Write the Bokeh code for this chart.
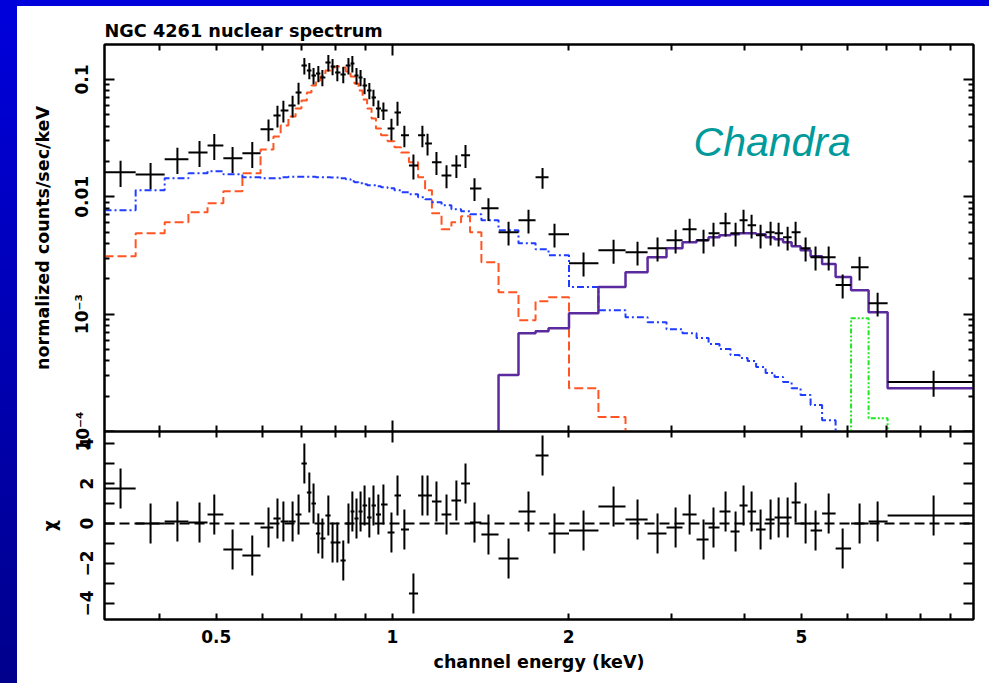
from bokeh.plotting import figure
from bokeh.models import (FixedTicker, LogAxis, LinearAxis, Span, Label, ColumnDataSource)
from bokeh.layouts import column
from bokeh.embed import file_html
from bokeh.resources import INLINE

# ---------------- data ----------------
title_text = "NGC 4261 nuclear spectrum"
y_label_top = "normalized counts/sec/keV"
y_label_bottom = "\u03c7"
x_label = "channel energy (keV)"

# bin boundaries (keV)
edges = [0.322, 0.364, 0.408, 0.448, 0.483, 0.514, 0.554, 0.595, 0.626, 0.644,
         0.664, 0.683, 0.699, 0.714, 0.727, 0.740, 0.753, 0.768, 0.784, 0.798,
         0.815, 0.832, 0.848, 0.861, 0.875, 0.889, 0.905, 0.921, 0.937, 0.956,
         0.981, 1.008, 1.034, 1.067, 1.106, 1.137, 1.168, 1.213, 1.261, 1.310,
         1.357, 1.419, 1.518, 1.642, 1.756, 1.848, 2.003, 2.249, 2.502, 2.729,
         2.940, 3.131, 3.309, 3.469, 3.622, 3.782, 3.919, 4.045, 4.183, 4.342,
         4.498, 4.651, 4.810, 4.983, 5.183, 5.423, 5.719, 6.078, 6.512, 7.018, 9.84]

# data point energies (keV)
energy = [0.343, 0.386, 0.429, 0.468, 0.496, 0.533, 0.576, 0.614, 0.636, 0.651,
          0.675, 0.691, 0.707, 0.721, 0.733, 0.747, 0.759, 0.777, 0.790, 0.805,
          0.824, 0.841, 0.854, 0.868, 0.882, 0.896, 0.913, 0.928, 0.946, 0.965,
          0.996, 1.020, 1.048, 1.086, 1.125, 1.148, 1.189, 1.237, 1.286, 1.333,
          1.381, 1.459, 1.579, 1.708, 1.805, 1.892, 2.121, 2.387, 2.623, 2.838,
          3.047, 3.220, 3.401, 3.537, 3.709, 3.858, 3.981, 4.109, 4.257, 4.428,
          4.570, 4.735, 4.886, 5.082, 5.285, 5.565, 5.880, 6.285, 6.747, 8.41]

# normalized counts/sec/keV
counts = [0.0162, 0.0155, 0.0209, 0.0239, 0.0274, 0.0213, 0.0235, 0.0376, 0.0494, 0.0545,
          0.0601, 0.0775, 0.1315, 0.1193, 0.1081, 0.1125, 0.1040, 0.1395, 0.1290, 0.1147,
          0.1103, 0.1315, 0.1368, 0.1081, 0.1040, 0.0889, 0.0806, 0.0703, 0.0566, 0.0545,
          0.0383, 0.0524, 0.0334, 0.0185, 0.0334, 0.0285, 0.0197, 0.0152, 0.0185, 0.0226,
          0.0118, 0.00798, 0.00499, 0.00631, 0.01466, 0.00480, 0.00272, 0.00350, 0.00337, 0.00365,
          0.00426, 0.00529, 0.00426, 0.00489, 0.00595, 0.00489, 0.00631, 0.00572, 0.00470, 0.00499,
          0.00489, 0.00452, 0.00499, 0.00365, 0.00306, 0.00306, 0.00177, 0.00251, 0.00124, 0.000264]

# fractional 1-sigma errors of the counts
frac_err = [0.25, 0.25, 0.25, 0.25, 0.25, 0.25, 0.25, 0.21, 0.21, 0.21,
            0.21, 0.21, 0.16, 0.16, 0.16, 0.16, 0.16, 0.16, 0.16, 0.16,
            0.16, 0.16, 0.16, 0.16, 0.16, 0.16, 0.16, 0.16, 0.17, 0.17,
            0.21, 0.23, 0.21, 0.24, 0.21, 0.21, 0.22, 0.22, 0.22, 0.22,
            0.22, 0.22, 0.23, 0.23, 0.20, 0.23, 0.23, 0.23, 0.23, 0.23,
            0.23, 0.23, 0.23, 0.23, 0.23, 0.23, 0.23, 0.23, 0.23, 0.23,
            0.23, 0.23, 0.23, 0.23, 0.23, 0.23, 0.23, 0.23, 0.23, 0.25]

# residuals (chi)
chi = [1.75, 0.0, 0.1, 0.05, 0.45, -1.3, -1.6, -0.2, 0.25, 0.1,
       0.1, 0.45, 3.0, 1.55, 1.0, -0.5, -0.75, 0.4, -0.95, -0.95,
       -1.85, 0.0, 0.6, 0.25, 0.6, 0.9, 0.3, 0.9, 0.45, 0.95,
       -0.45, 1.4, -0.3, -3.5, 1.4, 1.4, 1.1, 0.45, 1.15, 2.0,
       0.05, -0.55, -1.75, 0.6, 3.4, -0.5, -0.35, 0.85, 0.2, -0.5,
       -0.2, 0.45, -0.8, -0.2, 0.6, -0.4, 0.9, 0.6, -0.3, 0.2,
       0.3, 0.3, 1.05, 0.0, -0.35, 0.5, -1.25, 0.0, 0.1, 0.4]
chi_err = [1.0] * 70

# model components, one value per bin (None = not drawn)
thermal = [0.00312, 0.00489, 0.00607, 0.00738, 0.00881, 0.01114, 0.01585, 0.02535, 0.0327, 0.0406,
           0.0484, 0.0567, 0.0662, 0.0776, 0.0889, 0.098, 0.106, 0.119, 0.1265, 0.129,
           0.1265, 0.117, 0.106, 0.0925, 0.0806, 0.0675, 0.0567, 0.0466, 0.0383, 0.0334,
           0.0297, 0.0264, 0.0239, 0.0197, 0.01466, 0.01135, 0.00724, 0.00529, 0.00607, 0.00682,
           0.00499, 0.00277, 0.00154, 0.000889, 0.00129, 0.001396, 0.000234, 0.000133] + [None] * 22

soft_pl = [0.00767, 0.01135, 0.01437, 0.01585, 0.01648, 0.01554, 0.01466, 0.0144, 0.0144, 0.0147,
           0.0148, 0.0148, 0.0148, 0.0148, 0.0148, 0.0147, 0.0147, 0.0147, 0.0146, 0.0146,
           0.01437, 0.01409, 0.01355, 0.01328, 0.01303, 0.01277, 0.01252, 0.01252, 0.01228, 0.01204,
           0.01181, 0.01135, 0.01091, 0.01049, 0.00990, 0.00952, 0.00898, 0.00847, 0.00783, 0.00753,
           0.00710, 0.00631, 0.00519, 0.00402, 0.00357, 0.00318, 0.00170, 0.00108, 0.000942, 0.000855,
           0.000745, 0.000689, 0.000625, 0.000556, 0.000504, 0.000448, 0.000422, 0.000398, 0.000354, 0.000315,
           0.000291, 0.000264, 0.000234, 0.000205, 0.000168, 0.000125] + [None] * 4

absorbed_pl = [None] * 42 + [0.000303, 0.000689, 0.000716, 0.000760, 0.00102, 0.00170, 0.00228, 0.00305,
                             0.00365, 0.00410, 0.00427, 0.00452, 0.00470, 0.00480, 0.00489, 0.00489,
                             0.00480, 0.00452, 0.00435, 0.00410, 0.00379, 0.00350, 0.00312, 0.00267,
                             0.00207, 0.00160, 0.00104, 0.000234]

fe_line = [None] * 67 + [0.000924, 0.000130, None]

x_ticks = [0.5, 1, 2, 5]
x_minor = [0.4, 0.6, 0.7, 0.8, 0.9, 3, 4, 6, 7, 8, 9]
y_ticks_top = [1e-4, 1e-3, 1e-2, 1e-1]
y_labels_top = {1e-4: "10\u207b\u2074", 1e-3: "10\u207b\u00b3", 1e-2: "0.01", 1e-1: "0.1"}
y_minor_top = [m * d for d in (1e-4, 1e-3, 1e-2, 1e-1) for m in range(2, 10)]
y_ticks_bot = [-4, -2, 0, 2, 4]
y_labels_bot = {-4: "\u22124", -2: "\u22122", 0: "0", 2: "2", 4: "4"}
y_minor_bot = [-3, -1, 1, 3]

FONT = "DejaVu Sans"
FS = "17px"
FLOOR = 1e-7

# ---------------- helpers ----------------
lo = edges[:-1]
hi = edges[1:]


def step_segments(values):
    xs_all, ys_all = [], []
    xs, ys = [], []
    prev = None
    for a, b, v in zip(lo, hi, values):
        if v is None:
            if prev is not None:
                xs.append(xs[-1]); ys.append(FLOOR)
                xs_all.append(xs); ys_all.append(ys)
                xs, ys = [], []
            prev = None
            continue
        if prev is None and a > edges[0]:
            xs.append(a); ys.append(FLOOR)
        xs += [a, b]
        ys += [v, v]
        prev = v
    if xs:
        xs_all.append(xs); ys_all.append(ys)
    return xs_all, ys_all


def style_axis(ax, show_labels, major_len, minor_len):
    ax.axis_line_width = 2
    ax.axis_line_color = "black"
    ax.major_tick_in = major_len
    ax.major_tick_out = 0
    ax.minor_tick_in = minor_len
    ax.minor_tick_out = 0
    ax.major_tick_line_width = 2
    ax.minor_tick_line_width = 2
    ax.major_label_text_font = FONT
    ax.major_label_text_font_style = "bold"
    ax.major_label_text_color = "black"
    ax.axis_label_text_font = FONT
    ax.axis_label_text_font_style = "bold"
    ax.axis_label_text_font_size = "17.5px"
    ax.axis_label_text_color = "black"
    if show_labels:
        ax.major_label_text_font_size = FS
    else:
        ax.major_label_text_font_size = "1px"
        ax.major_label_text_alpha = 0
        ax.major_label_standoff = 0


def new_fig(**kw):
    f = figure(output_backend="svg", toolbar_location=None, **kw)
    f.grid.visible = False
    f.background_fill_color = "white"
    f.border_fill_alpha = 0
    f.outline_line_color = "black"
    f.outline_line_width = 2
    return f

# ---------------- upper panel ----------------
OVER = 22
p1 = new_fig(width=972, height=38 + 387 + OVER, x_axis_type="log", y_axis_type="log",
             x_range=(edges[0], edges[-1]), y_range=(1e-4, 0.1986),
             min_border_left=87, min_border_right=16, min_border_top=38, min_border_bottom=OVER)
p1.title.text = title_text
p1.title.text_font = FONT
p1.title.text_font_style = "bold"
p1.title.text_font_size = "17.7px"
p1.title.text_color = "black"
p1.title.align = "left"
p1.title.standoff = 7

yl = p1.yaxis[0]
yl.ticker = FixedTicker(ticks=y_ticks_top, minor_ticks=y_minor_top)
yl.major_label_overrides = y_labels_top
style_axis(yl, True, 10, 5)
yl.major_label_orientation = "vertical"
yl.major_label_standoff = 12
yl.axis_label = y_label_top
yl.axis_label_standoff = 17

xb = p1.xaxis[0]
xb.ticker = FixedTicker(ticks=[1], minor_ticks=x_minor + [0.5, 2, 5])
style_axis(xb, False, 11, 6)

xt = LogAxis(ticker=FixedTicker(ticks=[1], minor_ticks=x_minor + [0.5, 2, 5]))
style_axis(xt, False, 11, 6)
p1.add_layout(xt, "above")
yr = LogAxis(ticker=FixedTicker(ticks=y_ticks_top, minor_ticks=y_minor_top))
style_axis(yr, False, 10, 5)
p1.add_layout(yr, "right")

ORANGE = "#ff5522"
BLUE = "#1f3cff"
PURPLE = "#5b2a9e"
GREEN = "#22e622"

xs, ys = step_segments(thermal)
p1.multi_line(xs, ys, line_color=ORANGE, line_width=2, line_dash="9 4")
xs, ys = step_segments(soft_pl)
p1.multi_line(xs, ys, line_color=BLUE, line_width=2, line_dash="7 3 2 3")
xs, ys = step_segments(absorbed_pl)
p1.multi_line(xs, ys, line_color=PURPLE, line_width=2.5)
xs, ys = step_segments(fe_line)
p1.multi_line(xs, ys, line_color=GREEN, line_width=2, line_dash="5 2 2 2 2 2")

src = ColumnDataSource(dict(
    x=energy, lo=lo, hi=hi, y=counts,
    ylo=[c * (1 - f) for c, f in zip(counts, frac_err)],
    yhi=[c * (1 + f) for c, f in zip(counts, frac_err)],
    chi=chi,
    clo=[c - e for c, e in zip(chi, chi_err)],
    chi_hi=[c + e for c, e in zip(chi, chi_err)],
))
p1.segment(x0="lo", x1="hi", y0="y", y1="y", source=src, line_color="black", line_width=2)
p1.segment(x0="x", x1="x", y0="ylo", y1="yhi", source=src, line_color="black", line_width=2)

p1.add_layout(Label(x=3.27, y=0.0291, text="Chandra", text_font="Liberation Sans",
                    text_font_style="italic", text_font_size="41px", text_color="#009a9a",
                    text_baseline="alphabetic"))

# ---------------- lower panel ----------------
p2 = new_fig(width=972, height=188 + 64, x_axis_type="log",
             x_range=p1.x_range, y_range=(-4.8, 4.6),
             min_border_left=87, min_border_right=16, min_border_top=0, min_border_bottom=64)
p2.margin = (-OVER, 0, 0, 0)

y2 = p2.yaxis[0]
y2.ticker = FixedTicker(ticks=y_ticks_bot, minor_ticks=y_minor_bot)
y2.major_label_overrides = y_labels_bot
style_axis(y2, True, 10, 10)
y2.major_label_orientation = "vertical"
y2.major_label_standoff = 12
y2.axis_label = y_label_bottom
y2.axis_label_standoff = 17

x2 = p2.xaxis[0]
x2.ticker = FixedTicker(ticks=x_ticks, minor_ticks=x_minor)
x2.major_label_overrides = {0.5: "0.5", 1: "1", 2: "2", 5: "5"}
style_axis(x2, True, 6, 6)
x2.major_label_standoff = 10
x2.axis_label = x_label
x2.axis_label_standoff = 6

x2t = LogAxis(ticker=FixedTicker(ticks=[1], minor_ticks=x_minor + [0.5, 2, 5]))
style_axis(x2t, False, 11, 6)
p2.add_layout(x2t, "above")
y2r = LinearAxis(ticker=FixedTicker(ticks=y_ticks_bot, minor_ticks=y_minor_bot))
style_axis(y2r, False, 10, 10)
p2.add_layout(y2r, "right")

p2.add_layout(Span(location=0, dimension="width", line_color="black", line_width=2, line_dash="10 5"))
p2.segment(x0="lo", x1="hi", y0="chi", y1="chi", source=src, line_color="black", line_width=2)
p2.segment(x0="x", x1="x", y0="clo", y1="chi_hi", source=src, line_color="black", line_width=2)

inner = column(p1, p2, margin=(6, 0, 0, 17), styles={"background-color": "white"})
outer = column(inner, width=989, height=683,
               styles={"background": "linear-gradient(180deg, #0000dc 0%, #00008c 100%)"})

open("out.html", "w").write(file_html(outer, INLINE))
